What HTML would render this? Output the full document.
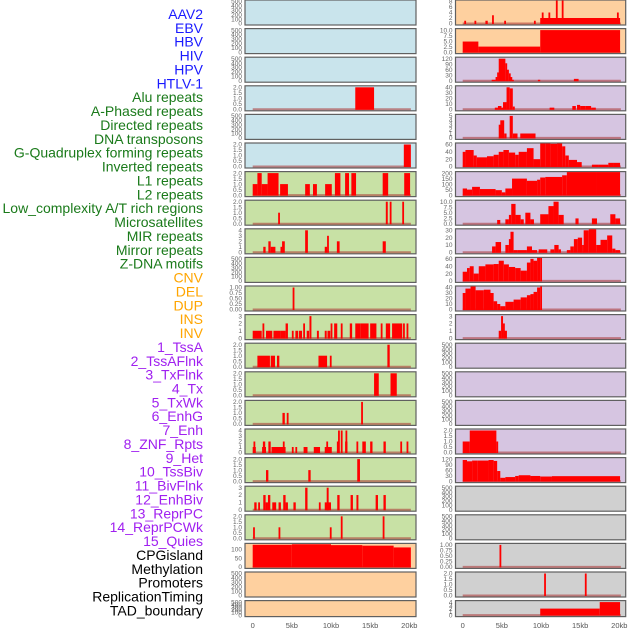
<!DOCTYPE html>
<html><head><meta charset="utf-8"><style>
html,body{margin:0;padding:0;background:#fff;}
svg{display:block;font-family:"Liberation Sans",sans-serif;}
</style></head><body>
<svg id="chart" width="630" height="630" viewBox="0 0 630 630" xmlns="http://www.w3.org/2000/svg"></svg>
<script>
// ----- labels -----
const rowLabels = ["AAV2","EBV","HBV","HIV","HPV","HTLV-1","Alu repeats","A-Phased repeats","Directed repeats","DNA transposons","G-Quadruplex forming repeats","Inverted repeats","L1 repeats","L2 repeats","Low_complexity A/T rich regions","Microsatellites","MIR repeats","Mirror repeats","Z-DNA motifs","CNV","DEL","DUP","INS","INV","1_TssA","2_TssAFlnk","3_TxFlnk","4_Tx","5_TxWk","6_EnhG","7_Enh","8_ZNF_Rpts","9_Het","10_TssBiv","11_BivFlnk","12_EnhBiv","13_ReprPC","14_ReprPCWk","15_Quies","CPGisland","Methylation","Promoters","ReplicationTiming","TAD_boundary"];
const labelGroups = [0,0,0,0,0,0,1,1,1,1,1,1,1,1,1,1,1,1,1,2,2,2,2,2,3,3,3,3,3,3,3,3,3,3,3,3,3,3,3,4,4,4,4,4];
const groupColors = ["#1a1aff","#1a7a1a","#ffa500","#a020f0","#000000"];
// ----- ticks -----
const T500 = ["0","100","200","300","400","500"];
const T2 = ["0.0","0.5","1.0","1.5","2.0"];
const leftTicks = [T500,T500,T500,T2,T500,T2,T2,T2,["0","1","2","3","4"],T500,["0.00","0.25","0.50","0.75","1.00"],["0","1","2","3"],T2,T2,T2,["0","1","2","3","4"],T2,["0","1","2","3"],T2,["0","50","100"],T500,T500];
const leftTickVals = [null,null,null,null,null,null,null,null,null,null,null,null,null,null,null,null,null,null,null,[0,50,100],null,null];
const rightTicks = [["0","2","4","6","8"],["0.0","2.5","5.0","7.5","10.0"],["0","30","60","90","120"],["0","10","20","30","40"],["0","1","2","3","4","5"],["0","20","40","60"],["0","50","100","150","200"],["0.0","2.5","5.0","7.5","10.0"],["0","10","20","30"],["0","20","40","60"],["0","10","20","30","40"],["0","1","2","3"],T500,T500,T500,T2,["0","30","60","90","120"],T500,T500,["0.00","0.25","0.50","0.75","1.00"],T2,["0","1","2","3","4"]];
const rightMax = [8.6,10,120,40,5,75,215,10,35,70,45,3,500,500,500,2,120,500,500,1,2,4];
const leftMax = [500,500,500,2,500,2,2,2,4,500,1,3,2,2,2,4,2,3,2,134,500,500];
// ----- backgrounds -----
const leftBg = ["b","b","b","b","b","b","g","g","g","g","g","g","g","g","g","g","g","g","g","o","o","o"];
const rightBg = ["o","o","p","p","p","p","p","p","p","p","p","p","p","p","p","p","p","gr","gr","gr","gr","gr"];
const bgColors = {b:"#c9e4ec",g:"#c8e1a5",o:"#fed09f",p:"#d6c5e1",gr:"#d0d0d0"};
// ----- series: [startKb, endKb, value] -----
const leftSegs = [
 [],[],[],
 [[13.1,15.5,2]],
 [],
 [[19.3,20.2,2]],
 [[0,0.6,1],[0.6,1.15,2],[1.15,1.9,1],[1.9,3.3,2],[3.5,4.5,1],[6.7,7.3,1],[7.7,8.2,1],[9.25,10.1,1],[10.5,11.2,2],[11.8,12.3,2],[12.6,13.2,2],[16.6,17.3,2],[19.35,20.1,2]],
 [[3.25,3.45,1],[17.0,17.25,2],[17.5,17.7,2],[19.1,19.3,2]],
 [[1.35,1.65,1],[2.0,2.3,2],[2.3,2.9,1],[3.55,3.75,1],[3.75,4.1,2],[6.7,7.05,4],[9.2,9.5,1],[9.5,9.7,3],[10.75,11.1,2],[16.6,17.0,2]],
 [],
 [[5.1,5.3,1]],
 [[0,1.15,1],[1.25,1.45,2],[1.7,2.5,1],[2.65,3.5,1],[3.5,4.2,1],[4.2,4.5,2],[5.0,5.2,1],[5.45,5.8,1],[5.9,6.3,1],[6.45,6.6,2],[6.9,7.2,1],[7.25,7.5,3],[8.2,8.45,1],[9.2,9.45,1],[9.55,9.9,1],[9.95,10.15,2],[10.4,10.8,2],[11.25,11.45,2],[12.4,12.7,2],[13.1,13.8,2],[13.8,14.8,2],[15.0,15.8,2],[16.35,16.55,2],[17.0,17.55,2],[17.8,19.1,2],[19.2,19.35,2],[19.65,19.85,2]],
 [[0.6,2.2,1],[2.3,2.85,1],[3.1,3.4,1],[8.4,9.5,1],[9.85,10.0,1],[17.2,17.5,2]],
 [[15.5,16.1,2],[17.6,18.4,2]],
 [[3.8,4.1,1],[4.35,4.55,1],[13.85,14.05,2]],
 [[0,0.4,1],[0.1,0.3,2],[1.2,1.7,1],[1.3,1.6,2],[2.0,2.3,2],[2.4,3.7,1],[3.6,4.2,1],[3.85,4.0,2],[5.0,5.2,1],[5.45,5.65,1],[6.5,7.0,1],[7.8,8.6,1],[9.2,10.1,1],[9.4,9.55,2],[10.75,10.95,2],[10.9,11.05,4],[11.25,11.4,4],[11.8,12.1,2],[11.85,12.0,4],[13.25,13.45,2],[14.0,14.45,2],[15.0,15.3,2],[16.7,17.0,2],[18.85,19.05,2],[19.65,19.85,2]],
 [[1.7,2.0,1],[7.1,7.4,1],[13.35,13.7,2]],
 [[0.2,0.5,1],[0.7,0.9,1],[1.35,1.65,2],[1.65,1.95,1],[1.95,2.25,2],[2.5,3.0,1],[3.3,3.6,1],[3.9,4.2,2],[4.2,4.5,1],[5.2,5.5,1],[6.7,7.0,3],[8.45,8.65,1],[9.2,10.0,1],[9.45,9.7,3],[10.8,11.1,2],[12.5,12.8,2],[13.25,13.5,2],[15.7,16.0,2],[16.7,17.0,2]],
 [[0.05,0.25,1],[3.3,3.5,1],[9.85,10.05,1],[11.25,11.45,2],[16.6,16.8,2]],
 [[0,5,125],[5,10,128],[10,14,123],[14,18,120],[18,20.2,110]],
 [],[]
];
const rightSegs = [
 [[0.2,0.35,1],[1.5,1.65,1],[2.9,3.2,1],[3.75,3.9,3],[5.3,5.45,1],[9.1,9.25,1],[9.9,20.1,2],[10.1,10.25,4],[10.95,11.1,4],[11.9,12.05,8.6],[12.65,12.8,8.6],[19.7,19.85,4]],
 [[0,2.0,4.8],[2.0,9.9,2.5],[9.9,20.1,10]],
 [[3.7,4.2,5],[4.2,4.4,20],[4.4,4.6,45],[4.6,5.45,120],[5.45,5.65,95],[5.65,5.9,60],[5.9,6.1,40],[6.1,6.3,20],[6.3,6.5,5],[9.6,9.9,5],[14.2,14.8,10]],
 [[4.1,4.5,3],[4.5,4.95,6],[4.95,5.15,3],[5.15,5.6,13],[5.6,6.0,40],[6.0,6.4,38],[6.4,6.65,5],[11.1,11.7,3],[14.0,14.45,6],[14.6,15.0,8],[15.0,15.65,6],[15.65,16.4,6],[16.4,17.0,3]],
 [[4.6,4.8,3],[4.8,5.3,4],[5.3,5.6,1],[6.0,6.4,5],[6.4,7.0,1],[7.35,9.3,1]],
 [[0,0.35,40],[0.35,1.4,45],[1.4,1.8,30],[1.8,3.1,25],[3.1,3.95,28],[3.95,4.6,32],[4.6,5.2,40],[5.2,5.9,45],[5.9,6.7,38],[6.7,7.15,32],[7.15,8.2,40],[8.2,9.05,50],[9.05,9.9,20],[9.9,10.55,75],[10.55,11.2,65],[11.2,12.05,62],[12.05,12.7,75],[12.7,13.1,55],[13.1,13.55,30],[13.55,14.6,18],[14.6,15.2,12],[16.5,17.4,5],[17.4,18.6,5],[18.6,19.2,10],[19.2,20.1,10]],
 [[0,0.55,60],[0.55,1.2,50],[1.2,2.2,75],[2.2,4.2,55],[4.2,5.0,45],[5.0,5.45,25],[5.45,6.3,60],[6.3,8.2,150],[8.2,9.5,130],[9.5,9.9,140],[9.9,10.55,160],[10.55,12.7,165],[12.7,13.3,180],[13.3,17.15,210],[17.15,20.1,215]],
 [[4.4,4.8,1.7],[5.45,5.9,2],[5.9,6.2,4],[6.2,6.75,9],[6.75,7.4,4],[7.4,7.8,2],[8.0,8.65,5],[8.65,9.1,2],[9.9,10.95,4.3],[10.95,11.6,8],[11.6,12.25,10],[12.25,12.9,4],[14.4,14.8,2.4],[16.5,17.15,2.4],[18.85,19.5,4.3],[19.5,20.1,2.4]],
 [[3.75,4.2,8],[4.2,4.9,14],[5.45,5.9,10],[5.9,6.1,18],[6.1,6.5,28],[6.5,6.95,3],[6.95,8.2,3],[8.2,8.85,8],[8.85,9.5,3],[9.7,10.8,4],[11.2,11.7,4],[11.7,12.25,10],[12.25,12.55,4],[13.3,13.75,3],[13.75,14.2,8],[14.2,14.7,18],[14.7,15.25,20],[15.25,15.45,10],[15.45,16.1,30],[16.1,17.05,35],[17.05,17.6,10],[17.6,18.45,17],[18.45,19.1,23],[19.1,19.5,5],[19.5,20.1,3]],
 [[0,0.55,25],[0.55,0.9,35],[0.9,1.4,40],[1.4,2.05,20],[2.05,2.9,40],[2.9,3.95,45],[3.95,4.6,46],[4.6,5.25,55],[5.25,5.9,45],[5.9,6.7,38],[6.7,7.4,35],[7.4,8.2,28],[8.2,8.65,50],[8.65,9.05,60],[9.05,9.5,55],[9.5,9.9,65],[9.9,10.1,70]],
 [[0,0.35,30],[0.35,1.0,38],[1.0,1.65,43],[1.65,2.7,35],[2.7,3.55,36],[3.55,3.95,30],[3.95,4.4,15],[4.4,4.8,10],[4.8,5.45,6],[5.45,6.5,14],[6.5,7.4,18],[7.4,8.2,22],[8.2,8.65,26],[8.65,9.05,28],[9.05,9.5,32],[9.5,9.9,40],[9.9,10.1,45]],
 [[4.6,4.9,1],[4.9,5.15,3],[5.15,5.3,2],[5.3,5.65,1]],
 [],[],[],
 [[0,0.9,1],[0.9,4.3,2],[4.3,4.5,1]],
 [[0,0.55,115],[0.55,1.2,108],[1.2,1.85,112],[1.85,3.3,112],[3.3,3.95,115],[3.95,4.4,110],[4.4,4.8,55],[4.8,5.45,18],[5.45,6.7,22],[6.7,7.15,28],[7.15,8.65,32],[8.65,9.9,28],[9.9,11.4,25],[11.4,20.1,27]],
 [],[],
 [[4.7,4.9,1]],
 [[10.4,10.6,2],[15.6,15.8,2]],
 [[9.9,17.5,2],[17.5,20.1,4]]
];
const xTickVals = [0,5,10,15,20];
const xTickLabels = ["0","5kb","10kb","15kb","20kb"];

const NS = "http://www.w3.org/2000/svg";
const svg = document.getElementById("chart");
function mk(tag, attrs, parent){
  const e = document.createElementNS(NS, tag);
  for (const k in attrs) e.setAttribute(k, attrs[k]);
  (parent||svg).appendChild(e);
  return e;
}
// labels
rowLabels.forEach((t,i)=>{
  const el = mk("text",{x:203,y:19+i*13.87,"text-anchor":"end","font-size":"14",fill:groupColors[labelGroups[i]]});
  el.textContent = t;
  
  
});
// columns geometry
const cols = [
  {px0:245, px1:416, x0:252.7, ticks:leftTicks, max:leftMax, bg:leftBg, segs:leftSegs, name:"left"},
  {px0:455.5, px1:625.7, x0:462.7, ticks:rightTicks, max:rightMax, bg:rightBg, segs:rightSegs, name:"right"}
];
const kbPx = 7.83;
for (let i=0;i<22;i++){
  const top = i*28.6;
  const h = i===21 ? 16 : 25;
  const yTop = top+1.5, yBot = top+h-1.5;
  cols.forEach(c=>{
    const g = mk("g",{});
    
    
    mk("rect",{x:c.px0,y:top,width:c.px1-c.px0,height:h,fill:bgColors[c.bg[i]],stroke:"#606060","stroke-width":"1.2"},g);
    const ticks = c.ticks[i];
    const n = ticks.length;
    const tmax = parseFloat(ticks[n-1]);
    const maxV = c.max[i];
    const yOf = v => yBot - (v/tmax)*(yBot-yTop);
    const tv = (c.name==="left" && leftTickVals[i]) ? leftTickVals[i] : ticks.map(parseFloat);
    // custom scale for CpG panel
    const ys = (c.name==="left" && i===19) ? (v => yBot - v*0.177) : yOf;
    ticks.forEach((t,k)=>{
      const y = ys(tv[k]);
      const te = mk("text",{x:c.px0-3,y:y+2.2,"text-anchor":"end","font-size":"6.5",fill:"#666"},g);
      te.textContent = t;
      
      
    });
    const segs = c.segs[i];
    if (segs.length){
      const bl = mk("line",{x1:c.x0,x2:c.x0+20.2*kbPx,y1:yBot,y2:yBot,stroke:"rgba(170,50,50,0.55)","stroke-width":"2"},g);
      
      
    }
    segs.forEach(s=>{
      const xa = c.x0 + s[0]*kbPx;
      let w = (s[1]-s[0])*kbPx; if (w<1.8) w=1.8;
      const y = Math.max(top+0.5, ys(s[2]));
      const r = mk("rect",{x:xa,y:y,width:w,height:yBot-y+0.5,fill:"#ff0000"},g);
      
      
    });
  });
}
// x axes
cols.forEach(c=>{
  xTickVals.forEach((v,k)=>{
    const t = mk("text",{x:c.x0+v*kbPx,y:628,"text-anchor":"middle","font-size":"7.5",fill:"#555"});
    t.textContent = xTickLabels[k];
    
    
  });
});
</script>
</body></html>
